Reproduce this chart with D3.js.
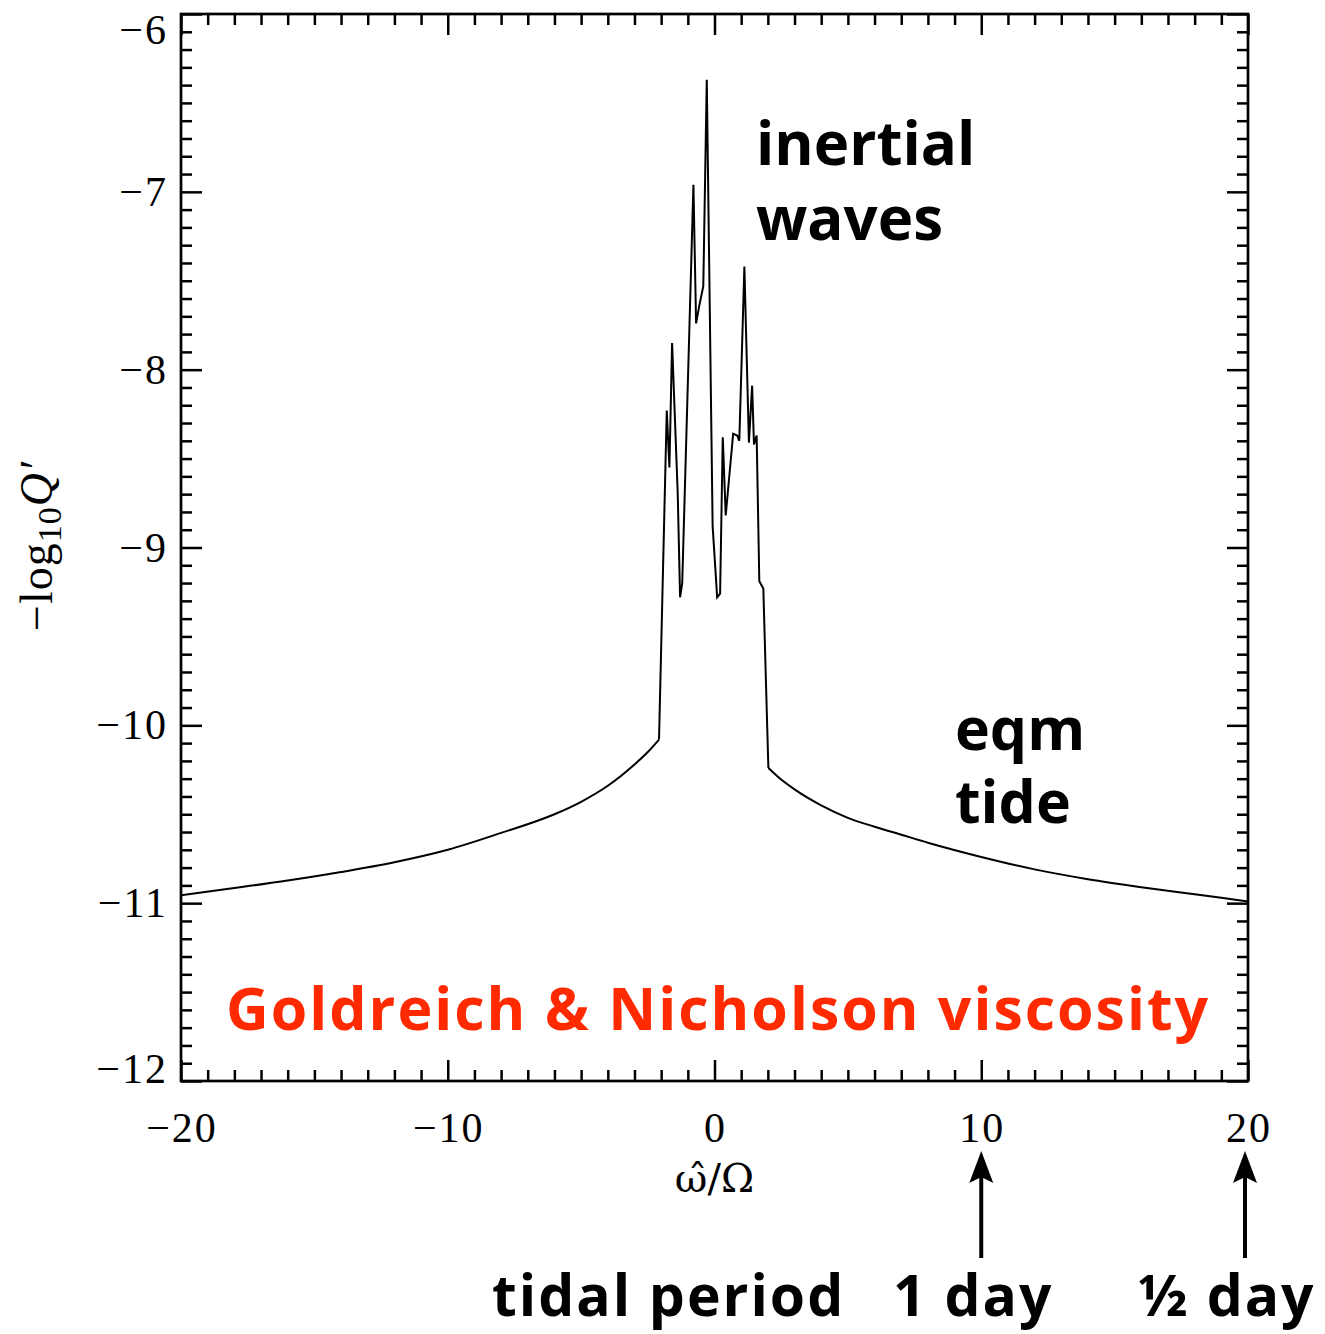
<!DOCTYPE html>
<html>
<head>
<meta charset="utf-8">
<script src="https://cdn.jsdelivr.net/npm/d3@7"></script>
<style>
  body { margin: 0; background: #fff; }
  .tick-label { font-family: 'Liberation Serif', 'DejaVu Serif', serif; font-size: 42px; fill: #000; letter-spacing: 2px; }
  .note { font-family: 'Open Sans', 'Noto Sans', sans-serif; font-weight: 700; fill: #000; font-variant-ligatures: none; }
</style>
</head>
<body>
<script>
'use strict';

// tick values of the two axes
var xMajor = [-20, -10, 0, 10, 20];
var yMajor = [-12, -11, -10, -9, -8, -7, -6];

// the curve, omega-hat / Omega against -log10 Q'
var omega = [
  -20, -18, -16, -14, -12, -10, -8, -6, -5, -4, -3, -2.5, -2.08,
  -1.79, -1.69, -1.59, -1.38, -1.29, -1.21, -0.79, -0.69, -0.57, -0.42, -0.29,
  -0.07, 0.10, 0.21, 0.31, 0.42, 0.70, 0.85, 0.93, 1.12, 1.29, 1.41, 1.48, 1.58,
  1.68, 1.83, 2.02, 2.5, 3, 4, 5, 6, 7, 8, 10, 12, 14, 16, 18, 20
];
var logQ = [
  -10.955, -10.915, -10.873, -10.825, -10.77, -10.70, -10.605, -10.50, -10.43, -10.34, -10.22, -10.15, -10.08,
  -8.23, -8.55, -7.85, -8.69, -9.28, -9.20, -6.96, -7.74, -7.64, -7.53, -6.37,
  -8.88, -9.28, -9.26, -8.38, -8.82, -8.36, -8.37, -8.40, -7.42, -8.41, -8.09, -8.42, -8.37,
  -9.19, -9.23, -10.24, -10.305, -10.36, -10.45, -10.52, -10.57, -10.615, -10.66, -10.74, -10.81, -10.865, -10.91, -10.95, -10.99
];

// text on the chart
var waveLines = ['inertial', 'waves'];
var eqmLines = ['eqm', 'tide'];
var viscosityLabel = 'Goldreich & Nicholson viscosity';
var periodLabels = ['tidal period', '1 day', '\u00BD day'];
var arrowAt = [10, 20];

var width = 1325;
var height = 1334;
var frame = {left: 181, right: 1248, top: 14, bottom: 1081};

var x = d3.scaleLinear().domain([-20, 20]).range([frame.left, frame.right]);
var y = d3.scaleLinear().domain([-12, -6]).range([frame.bottom, frame.top]);

var svg = d3.select('body').append('svg')
  .attr('width', width)
  .attr('height', height);

var fmt = function(d) { return d < 0 ? '\u2212' + Math.abs(d) : String(d); };

// minor ticks every 1 on x and every 0.1 on y
var xMinor = d3.range(-20, 21, 1).filter(function(d) { return xMajor.indexOf(d) < 0; });
var yMinor = d3.range(-120, -59, 1).map(function(d) { return d / 10; })
  .filter(function(d) { return yMajor.indexOf(d) < 0; });

function tickAxis(axis, g) {
  g.call(axis);
  g.select('.domain').remove();
  g.selectAll('.tick line').attr('stroke', '#000').attr('stroke-width', 2.5);
}

// ticks point inward on all four sides
tickAxis(d3.axisBottom(x).tickValues(xMinor).tickSize(-11).tickFormat(''),
  svg.append('g').attr('transform', 'translate(0,' + frame.bottom + ')'));
tickAxis(d3.axisBottom(x).tickValues(xMajor).tickSize(-21).tickFormat(''),
  svg.append('g').attr('transform', 'translate(0,' + frame.bottom + ')'));
tickAxis(d3.axisTop(x).tickValues(xMinor).tickSize(-11).tickFormat(''),
  svg.append('g').attr('transform', 'translate(0,' + frame.top + ')'));
tickAxis(d3.axisTop(x).tickValues(xMajor).tickSize(-21).tickFormat(''),
  svg.append('g').attr('transform', 'translate(0,' + frame.top + ')'));
tickAxis(d3.axisLeft(y).tickValues(yMinor).tickSize(-11).tickFormat(''),
  svg.append('g').attr('transform', 'translate(' + frame.left + ',0)'));
tickAxis(d3.axisLeft(y).tickValues(yMajor).tickSize(-21).tickFormat(''),
  svg.append('g').attr('transform', 'translate(' + frame.left + ',0)'));
tickAxis(d3.axisRight(y).tickValues(yMinor).tickSize(-11).tickFormat(''),
  svg.append('g').attr('transform', 'translate(' + frame.right + ',0)'));
tickAxis(d3.axisRight(y).tickValues(yMajor).tickSize(-21).tickFormat(''),
  svg.append('g').attr('transform', 'translate(' + frame.right + ',0)'));

svg.append('rect')
  .attr('x', frame.left).attr('y', frame.top)
  .attr('width', frame.right - frame.left).attr('height', frame.bottom - frame.top)
  .attr('fill', 'none').attr('stroke', '#000').attr('stroke-width', 2.7);

// tick labels
svg.selectAll('text.xl').data(xMajor).enter().append('text')
  .attr('class', 'tick-label xl')
  .attr('x', function(d) { return x(d) + 1; })
  .attr('y', 1142)
  .attr('text-anchor', 'middle')
  .text(fmt);

svg.selectAll('text.yl').data(yMajor).enter().append('text')
  .attr('class', 'tick-label yl')
  .attr('x', 168)
  .attr('y', function(d) {
    var off = 0;
    if (d === -6) off = 16;   // end labels are pushed inside the frame
    if (d === -12) off = -12;
    return y(d) + off + 14;
  })
  .attr('text-anchor', 'end')
  .text(fmt);

// axis titles
var yt = svg.append('text')
  .attr('class', 'tick-label')
  .attr('transform', 'translate(52,546) rotate(-90)')
  .attr('text-anchor', 'middle')
  .style('font-size', '46px')
  .style('letter-spacing', '1px');
yt.append('tspan').text('\u2212log');
yt.append('tspan').attr('font-size', 34).attr('dy', 9).text('10');
yt.append('tspan').attr('dy', -9).attr('font-style', 'italic').text('Q\u2032');

svg.append('text')
  .attr('class', 'tick-label')
  .attr('x', x(0)).attr('y', 1192)
  .attr('text-anchor', 'middle')
  .style('font-family', "'DejaVu Serif', serif")
  .style('font-size', '40px')
  .style('letter-spacing', '0px')
  .text('\u03C9\u0302/\u03A9');

// the curve: smooth equilibrium-tide wings, jagged inertial-wave band
var pts = d3.zip(omega, logQ);
var line = d3.line()
  .x(function(d) { return x(d[0]); })
  .y(function(d) { return y(d[1]); });
var smooth = d3.line()
  .x(function(d) { return x(d[0]); })
  .y(function(d) { return y(d[1]); })
  .curve(d3.curveMonotoneX);

var pieces = [
  {data: pts.slice(0, 13), gen: smooth},
  {data: pts.slice(12, 40), gen: line},
  {data: pts.slice(39), gen: smooth}
];
svg.selectAll('path.curve').data(pieces).enter().append('path')
  .attr('class', 'curve')
  .attr('d', function(p) { return p.gen(p.data); })
  .attr('fill', 'none')
  .attr('stroke', '#000')
  .attr('stroke-width', 2)
  .attr('stroke-linejoin', 'miter');

// annotations
svg.selectAll('text.wv').data(waveLines).enter().append('text')
  .attr('class', 'note wv')
  .attr('x', 756)
  .attr('y', function(d, i) { return 165 + i * 75; })
  .style('font-size', '60px')
  .text(function(d) { return d; });

svg.selectAll('text.eq').data(eqmLines).enter().append('text')
  .attr('class', 'note eq')
  .attr('x', 955)
  .attr('y', function(d, i) { return 750 + i * 73; })
  .style('font-size', '59px')
  .text(function(d) { return d; });

svg.append('text')
  .attr('class', 'note')
  .attr('x', 226).attr('y', 1030)
  .style('font-size', '59px')
  .style('letter-spacing', '2px')
  .style('fill', '#ff2a00')
  .text(viscosityLabel);

var periodX = [492, 893, 1138];
svg.selectAll('text.pd').data(periodLabels).enter().append('text')
  .attr('class', 'note pd')
  .attr('x', function(d, i) { return periodX[i]; })
  .attr('y', 1316)
  .style('font-size', '57px')
  .style('letter-spacing', '2px')
  .text(function(d) { return d; });

// arrows under the 10 and 20 ticks
var arrows = svg.selectAll('g.arrow').data(arrowAt).enter().append('g')
  .attr('class', 'arrow')
  .attr('transform', function(d) { return 'translate(' + (x(d) - (d === 20 ? 3 : 0)) + ',0)'; });
arrows.append('line')
  .attr('x1', 0).attr('x2', 0).attr('y1', 1258).attr('y2', 1175)
  .attr('stroke', '#000').attr('stroke-width', 4);
arrows.append('path')
  .attr('d', 'M0,1151 L-12,1183 L0,1177 L12,1183 Z')
  .attr('fill', '#000');
</script>
</body>
</html>
